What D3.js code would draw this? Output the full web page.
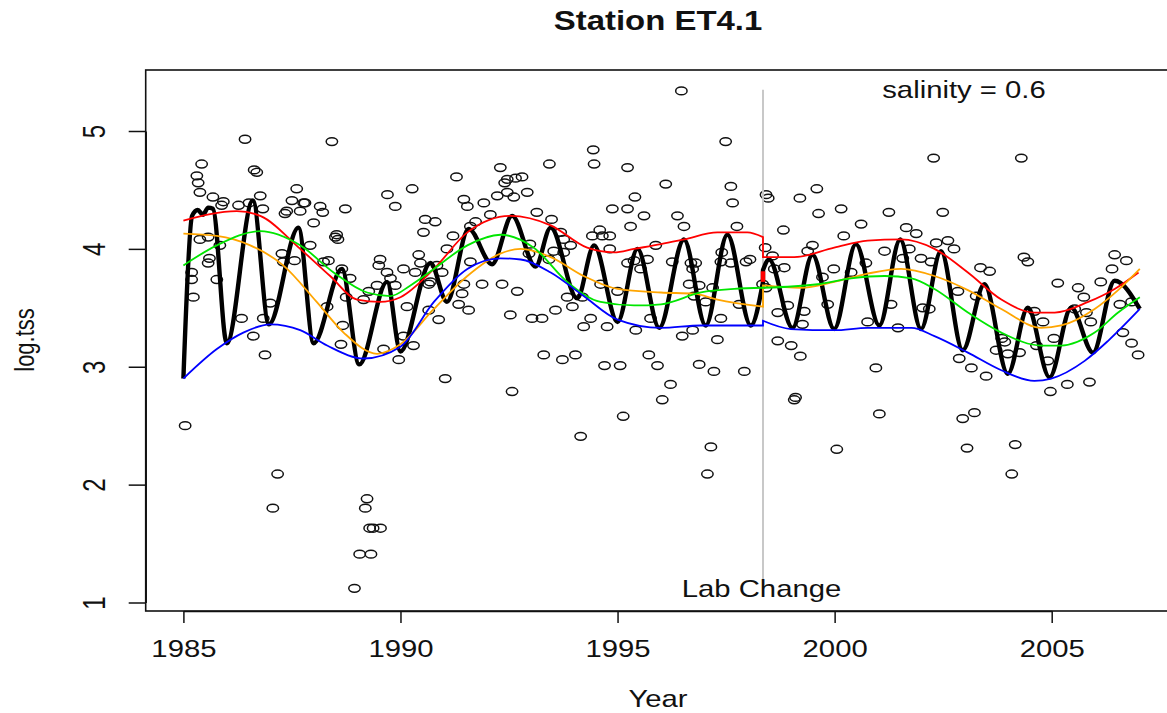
<!DOCTYPE html>
<html>
<head>
<meta charset="utf-8">
<script src="https://cdn.jsdelivr.net/npm/d3@7/dist/d3.min.js"></script>
<style>
  body { margin: 0; background: #fff; }
  svg { display: block; font-family: "Liberation Sans", Arial, sans-serif; }
</style>
</head>
<body>
<div class="js-chart"></div>
<script>
// Observed samples: [decimal year, log.tss]
const observations = [
  [1986.42,4.93],[1988.42,4.91],[1985.42,4.72],[1986.63,4.67],[1986.69,4.65],[1985.31,4.62],[1985.34,4.56],
  [1985.38,4.48],[1985.68,4.44],[1985.92,4.40],[1985.88,4.37],[1986.27,4.37],[1986.51,4.39],[1986.77,4.45],
  [1986.83,4.34],[1987.61,4.51],[1987.50,4.41],[1987.77,4.39],[1987.80,4.39],[1987.38,4.32],[1987.34,4.30],
  [1987.69,4.32],[1988.15,4.36],[1988.21,4.31],[1988.73,4.34],[1989.70,4.46],[1989.88,4.36],[1988.00,4.22],
  [1988.50,4.10],[1988.56,4.08],[1988.53,4.12],[1985.38,4.08],[1985.57,4.10],[1985.84,4.03],[1987.92,4.03],
  [1987.27,3.96],[1987.30,3.89],[1987.56,3.90],[1985.60,3.92],[1985.57,3.88],[1985.19,3.80],[1985.19,3.74],
  [1985.77,3.74],[1988.23,3.89],[1988.34,3.90],[1988.65,3.83],[1988.84,3.75],[1989.53,3.91],[1989.50,3.86],
  [1989.69,3.80],[1989.77,3.75],[1989.46,3.69],[1989.88,3.69],[1989.27,3.64],[1989.15,3.57],[1985.23,3.59],
  [1988.75,3.59],[1988.31,3.51],[1987.00,3.54],[1986.34,3.41],[1986.84,3.41],[1986.61,3.26],[1988.67,3.35],
  [1989.61,3.15],
  [1986.88,3.10],[1985.04,2.50],[1987.17,2.09],[1987.06,1.80],[1989.23,1.88],[1989.19,1.80],[1989.29,1.63],
  [1989.37,1.63],[1989.54,1.63],[1989.06,1.41],[1989.32,1.41],[1988.94,1.12],[1988.63,3.19],[1989.96,3.06],
  [1994.44,4.84],[1994.46,4.72],[1993.43,4.72],[1992.30,4.69],[1995.23,4.69],[1991.29,4.61],[1992.46,4.59],
  [1992.40,4.56],[1992.65,4.60],[1992.80,4.61],[1990.27,4.51],[1992.23,4.45],[1992.46,4.48],[1992.61,4.44],
  [1992.92,4.48],[1991.46,4.42],[1991.54,4.36],[1991.92,4.39],[1992.07,4.29],[1993.14,4.31],[1993.48,4.25],
  [1995.40,4.44],[1994.88,4.34],[1995.23,4.34],[1995.61,4.28],[1995.30,4.19],[1990.57,4.25],[1990.80,4.23],
  [1990.53,4.14],[1991.21,4.11],[1991.73,4.23],[1991.61,4.19],[1993.69,4.14],[1993.76,4.08],[1993.92,4.03],
  [1994.42,4.11],[1994.59,4.16],[1994.65,4.11],[1994.82,4.11],[1992.98,4.04],[1993.53,3.98],[1993.76,3.97],
  [1994.82,4.00],[1995.88,4.03],[1991.07,4.00],[1990.42,3.95],[1990.46,3.88],[1990.34,3.80],[1990.07,3.83],
  [1990.84,3.86],[1990.96,3.80],[1991.61,3.89],[1992.96,3.96],[1993.42,3.91],[1995.23,3.88],[1995.38,3.90],
  [1995.53,3.83],[1995.69,3.91],[1990.65,3.70],[1990.69,3.72],[1991.88,3.70],[1992.34,3.70],[1992.69,3.64],
  [1991.46,3.70],[1991.42,3.62],[1991.34,3.53],[1991.57,3.48],[1990.15,3.51],[1990.65,3.48],[1990.88,3.40],
  [1993.84,3.59],[1994.19,3.59],[1993.57,3.48],[1993.96,3.51],[1994.61,3.70],[1995.00,3.64],[1992.53,3.44],
  [1993.03,3.41],[1993.26,3.41],[1994.22,3.34],[1994.76,3.34],[1994.38,3.41],[1995.42,3.31],[1995.76,3.41],
  [1990.07,3.26],[1990.30,3.18],
  [1991.03,2.90],[1992.57,2.79],[1993.30,3.10],[1993.73,3.06],[1994.03,3.10],[1994.70,3.01],[1995.06,3.01],
  [1995.72,3.10],[1995.92,3.01],[1996.03,2.72],[1995.13,2.58],[1994.15,2.41],
  [1996.47,5.34],[1997.49,4.91],[1996.11,4.55],[1997.61,4.53],[1997.65,4.39],[1998.42,4.46],[1998.47,4.43],
  [1999.20,4.43],[1999.59,4.51],[1999.63,4.30],[2000.15,4.34],[2001.25,4.31],[1996.38,4.28],[1996.53,4.19],
  [1997.75,4.19],[1998.82,4.16],[2000.61,4.21],[2001.65,4.18],[2000.21,4.11],[1998.40,4.01],[1999.49,4.03],
  [1999.38,3.98],[2001.15,3.98],[1997.40,3.97],[1998.57,3.94],[1996.26,3.89],[1996.69,3.88],[1996.80,3.88],
  [1997.38,3.89],[1997.61,3.88],[1997.96,3.89],[1998.05,3.91],[1998.61,3.83],[1998.84,3.84],[1999.98,3.83],
  [2000.38,3.80],[2000.72,3.88],[2001.57,3.92],[1996.73,3.83],[1996.65,3.70],[1996.88,3.69],[1997.19,3.67],
  [1998.34,3.70],[1998.42,3.67],[1999.72,3.76],[1996.76,3.60],[1997.03,3.55],[1997.80,3.53],[1998.92,3.52],
  [1999.84,3.53],[2001.30,3.53],[1997.38,3.41],[1998.69,3.46],[1999.30,3.47],[1999.26,3.36],[2000.76,3.38],
  [2001.46,3.33],[1996.49,3.26],[1996.73,3.31],[1997.30,3.23],[1998.69,3.22],[1999.00,3.18],
  [1996.88,3.02],[1997.22,2.96],[1997.92,2.96],[1996.22,2.85],[1997.15,2.32],[1997.07,2.09],[1999.21,3.09],
  [2000.95,2.99],[1999.10,2.74],[1999.07,2.72],[2001.03,2.60],[2000.05,2.30],
  [2002.28,4.77],[2004.30,4.77],[2002.49,4.31],[2001.88,4.13],[2002.34,4.05],[2002.61,4.07],[2002.75,4.00],
  [2001.72,4.00],[2001.99,3.92],[2002.22,3.89],[2004.36,3.93],[2004.45,3.89],[2003.36,3.84],[2003.57,3.81],
  [2006.45,3.95],[2006.72,3.90],[2006.39,3.83],[2005.14,3.71],[2005.61,3.67],[2005.74,3.59],[2006.13,3.72],
  [2002.84,3.64],[2003.26,3.60],[2002.03,3.50],[2002.18,3.49],[2004.60,3.47],[2004.80,3.38],[2005.53,3.49],
  [2005.80,3.46],[2005.90,3.38],[2006.57,3.53],[2006.84,3.55],[2003.85,3.24],[2003.92,3.21],[2005.05,3.24],
  [2006.64,3.29],[2006.84,3.20],
  [2003.72,3.14],[2003.99,3.11],[2004.26,3.12],[2004.65,3.18],[2004.91,3.05],[2006.99,3.10],[2002.87,3.07],
  [2003.15,2.99],[2003.49,2.92],[2004.97,2.79],[2005.36,2.85],[2005.87,2.87],[2002.95,2.56],[2003.22,2.61],
  [2003.05,2.31],[2004.16,2.34],[2004.08,2.09]
];

// Seasonal model fit (thick black), split at the lab change
const seasonalBefore = [
  [1985.00,2.90],[1985.20,4.28],[1985.33,4.33],[1985.45,4.29],[1985.57,4.35],[1985.68,4.34],[1986.00,3.20],
  [1986.60,4.41],[1986.97,3.36],[1987.65,4.18],[1988.00,3.20],[1988.65,3.83],[1989.05,3.02],[1989.69,3.72],
  [1990.00,3.13],[1990.69,3.88],[1991.07,3.55],[1991.57,4.17],[1992.11,3.87],[1992.57,4.28],[1993.11,3.85],
  [1993.46,4.18],[1994.07,3.58],[1994.46,4.03],[1995.00,3.38],[1995.46,4.00],[1995.96,3.33],[1996.53,4.08],
  [1997.03,3.35],[1997.53,4.12],[1998.07,3.35],[1998.35,3.72]
];
const seasonalAfter = [
  [1998.35,3.82],[1998.49,3.91],[1999.03,3.33],[1999.49,3.95],[1999.99,3.32],[2000.49,4.04],[2001.03,3.35],
  [2001.51,4.08],[2001.99,3.32],[2002.45,3.98],[2002.95,3.14],[2003.45,3.70],[2003.99,2.94],[2004.45,3.50],
  [2004.95,2.91],[2005.45,3.50],[2005.95,3.12],[2006.45,3.73],[2007.03,3.49]
];

// Smooth trend curves, each split at the lab change
const redBefore = [
  [1985.00,4.24],[1986.23,4.32],[1986.77,4.28],[1987.69,4.00],[1988.38,3.77],[1989.00,3.57],[1989.53,3.55],
  [1990.00,3.59],[1990.77,3.83],[1991.54,4.14],[1992.53,4.28],[1993.46,4.20],[1994.30,4.01],[1994.92,3.97],
  [1995.38,4.00],[1996.00,4.04],[1996.53,4.08],[1997.30,4.14],[1997.99,4.14],[1998.35,4.10]
];
const redAfter = [
  [1998.35,3.93],[1999.07,3.93],[1999.99,4.01],[2000.76,4.07],[2001.53,4.08],[2002.30,4.00],[2003.07,3.80],
  [2003.84,3.57],[2004.60,3.46],[2005.07,3.46],[2005.84,3.55],[2006.45,3.66],[2007.00,3.80]
];
const orangeBefore = [
  [1985.00,4.13],[1985.77,4.11],[1986.54,4.03],[1987.30,3.86],[1988.07,3.55],[1988.69,3.29],[1989.46,3.11],
  [1990.00,3.19],[1990.77,3.49],[1991.54,3.77],[1992.30,3.96],[1992.77,4.00],[1993.46,3.93],[1994.22,3.77],
  [1995.00,3.66],[1996.00,3.63],[1996.76,3.62],[1997.30,3.57],[1998.35,3.51]
];
const orangeAfter = [
  [1998.35,3.69],[1999.22,3.67],[1999.99,3.72],[2000.76,3.79],[2001.53,3.83],[2002.30,3.77],[2003.07,3.65],
  [2003.84,3.49],[2004.76,3.33],[2005.22,3.35],[2005.99,3.49],[2006.53,3.65],[2007.03,3.83]
];
const greenBefore = [
  [1985.00,3.86],[1985.77,4.03],[1986.77,4.15],[1987.69,4.03],[1988.46,3.80],[1989.23,3.63],[1989.77,3.60],
  [1990.23,3.69],[1990.77,3.83],[1991.54,4.03],[1992.30,4.12],[1993.07,4.01],[1993.84,3.72],[1994.61,3.55],
  [1995.38,3.52],[1996.00,3.53],[1996.92,3.63],[1997.69,3.66],[1998.35,3.67]
];
const greenAfter = [
  [1998.35,3.67],[1999.61,3.70],[2000.38,3.75],[2001.15,3.77],[2001.77,3.75],[2002.30,3.66],[2003.07,3.46],
  [2003.84,3.29],[2004.76,3.18],[2005.22,3.18],[2005.99,3.29],[2006.53,3.46],[2007.03,3.59]
];
const blueBefore = [
  [1985.00,2.90],[1985.77,3.15],[1986.38,3.29],[1987.00,3.36],[1987.69,3.31],[1988.31,3.18],[1989.15,3.07],
  [1990.00,3.17],[1990.77,3.55],[1991.54,3.83],[1992.30,3.92],[1992.77,3.91],[1993.46,3.80],[1994.22,3.60],
  [1995.00,3.40],[1996.00,3.33],[1996.92,3.35],[1998.35,3.35]
];
const blueAfter = [
  [1998.35,3.39],[1998.99,3.32],[1999.99,3.31],[2000.76,3.33],[2001.77,3.33],[2002.30,3.26],[2003.07,3.12],
  [2003.84,2.97],[2004.60,2.88],[2004.99,2.90],[2005.76,3.05],[2006.30,3.22],[2007.03,3.49]
];

const labChangeYear = 1998.35;
const labJump = [3.72, 3.81];   // step of the seasonal fit at the lab change
const labLineSpan = [1.2, 5.35];
const xTicks = [1985, 1990, 1995, 2000, 2005];
const yTicks = [1, 2, 3, 4, 5];

(function () {
  "use strict";

  var width = 1167;
  var height = 713;
  var stretch = 1.22;   // the picture is a little wider than tall
  var box = { left: 145.7, top: 70, right: 1176, bottom: 611 };

  var svg = d3.select(".js-chart")
    .append("svg")
    .attr("width", width)
    .attr("height", height);

  var x = d3.scaleLinear().domain([1985, 2005]).range([183.4, 1051.7]);
  var y = d3.scaleLinear().domain([1, 5]).range([602.5, 131]);

  /**
   * Put a text at (tx, ty), widened like the rest of the picture.
   */
  var addText = function (str, tx, ty, opts) {
    opts = opts || {};
    var tf = "translate(" + tx + "," + ty + ") scale(" + stretch + ",1)";
    if (opts.rotate) tf += " rotate(" + opts.rotate + ")";
    return svg.append("text")
      .attr("transform", tf)
      .attr("text-anchor", opts.anchor || "middle")
      .attr("font-size", opts.size || 24)
      .attr("font-weight", opts.weight || "normal")
      .attr("fill", "#111")
      .text(str);
  };

  // Axes
  var xAxis = svg.append("g")
    .attr("transform", "translate(0," + box.bottom + ")")
    .call(d3.axisBottom(x).tickValues(xTicks).tickFormat(d3.format("d"))
      .tickSize(12).tickSizeOuter(0));
  xAxis.selectAll("text")
    .attr("y", 0).attr("dy", null)
    .attr("transform", "translate(0,46) scale(" + stretch + ",1)")
    .attr("font-size", 24).attr("fill", "#111");

  var yAxis = svg.append("g")
    .attr("transform", "translate(" + box.left + ",0)")
    .call(d3.axisLeft(y).tickValues(yTicks).tickFormat(d3.format("d"))
      .tickSize(17).tickSizeOuter(0));
  yAxis.selectAll("text")
    .attr("x", 0).attr("dy", null)
    .attr("text-anchor", "middle")
    .attr("transform", "translate(-40.7,0) scale(1.3,1) rotate(-90)")
    .attr("font-size", 24).attr("fill", "#111");

  svg.selectAll(".tick line").attr("stroke", "#111").attr("stroke-width", 1.5);
  svg.selectAll(".domain").attr("stroke", "#111").attr("stroke-width", 1.5);

  // Plot frame
  svg.append("rect")
    .attr("x", box.left).attr("y", box.top)
    .attr("width", box.right - box.left).attr("height", box.bottom - box.top)
    .attr("fill", "none").attr("stroke", "#111").attr("stroke-width", 1.6);

  // Observations as open circles
  svg.append("g")
    .selectAll("ellipse")
    .data(observations)
    .join("ellipse")
      .attr("cx", function (d) { return x(d[0]); })
      .attr("cy", function (d) { return y(d[1]); })
      .attr("rx", 5.7)
      .attr("ry", 3.9)
      .attr("fill", "none")
      .attr("stroke", "#111")
      .attr("stroke-width", 1.5);

  // Lab change marker
  svg.append("line")
    .attr("x1", x(labChangeYear)).attr("x2", x(labChangeYear))
    .attr("y1", y(labLineSpan[1])).attr("y2", y(labLineSpan[0]))
    .attr("stroke", "#c8c8c8").attr("stroke-width", 2);

  var line = d3.line()
    .x(function (d) { return x(d[0]); })
    .y(function (d) { return y(d[1]); })
    .curve(d3.curveMonotoneX);

  // Join the two halves of a curve with a vertical step
  var brokenPath = function (before, after) {
    return line(before) + line(after).replace(/^M/, "L");
  };

  svg.append("path")
    .attr("d", brokenPath(seasonalBefore, seasonalAfter))
    .attr("fill", "none").attr("stroke", "#000").attr("stroke-width", 4.4)
    .attr("stroke-linejoin", "round");

  var trends = [
    { before: redBefore, after: redAfter, color: "#ff0000" },
    { before: orangeBefore, after: orangeAfter, color: "#ffa500" },
    { before: greenBefore, after: greenAfter, color: "#00e600" },
    { before: blueBefore, after: blueAfter, color: "#0000ff" }
  ];
  trends.forEach(function (t) {
    svg.append("path")
      .attr("d", brokenPath(t.before, t.after))
      .attr("fill", "none").attr("stroke", t.color).attr("stroke-width", 1.8);
  });

  svg.append("line")
    .attr("x1", x(labChangeYear)).attr("x2", x(labChangeYear))
    .attr("y1", y(labJump[0])).attr("y2", y(labJump[1]))
    .attr("stroke", "#ff0000").attr("stroke-width", 4.5);

  // Texts
  addText("Station ET4.1", 658, 30, { size: 27, weight: "bold" });
  addText("Year", 658, 707);
  addText("log.tss", 34, 340, { rotate: -90, size: 22 });
  addText("salinity = 0.6", 964, 98);
  addText("Lab Change", 761.5, 597);
})();
</script>
</body>
</html>
